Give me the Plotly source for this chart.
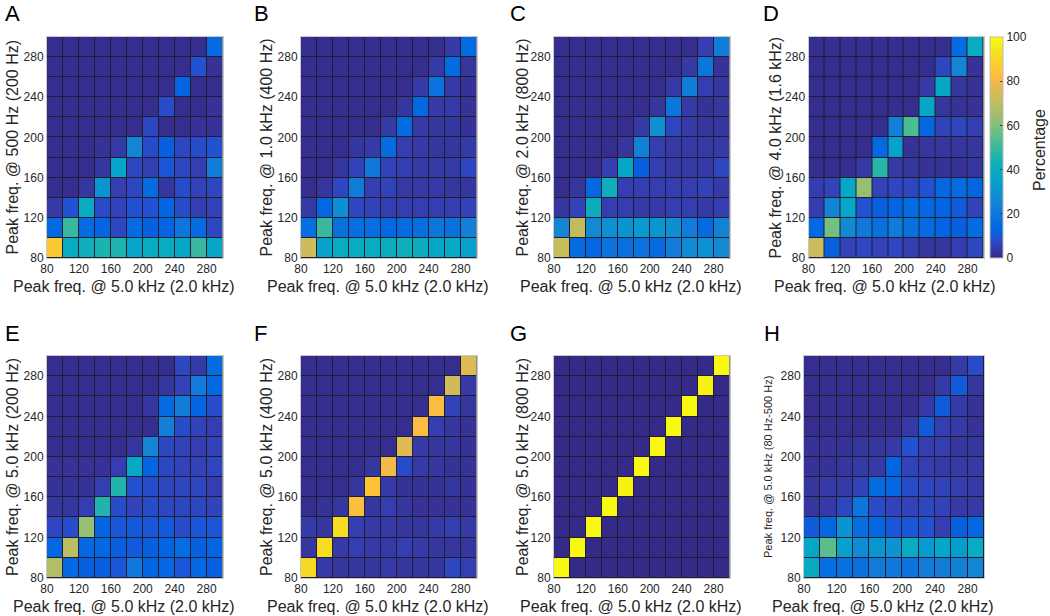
import plotly.graph_objects as go

W, H = 1050, 616

# Cell centres (Hz); rows are listed from top (290) to bottom (90)
x_freqs = [90, 110, 130, 150, 170, 190, 210, 230, 250, 270, 290]
y_freqs = [290, 270, 250, 230, 210, 190, 170, 150, 130, 110, 90]
tick_vals = [80, 120, 160, 200, 240, 280]
cbar_ticks = [0, 20, 40, 60, 80, 100]

panel_A = [
    [1, 1, 1, 1, 1, 1, 1, 1, 1, 1, 15],
    [1, 1, 1, 1, 1, 1, 1, 1, 1, 9, 2],
    [1, 1, 1, 1, 1, 1, 1, 1, 13, 1, 1],
    [1, 1, 1, 1, 1, 1, 1, 8, 1, 1, 2],
    [1, 1, 1, 1, 1, 1, 7, 1, 1, 2, 2],
    [1, 1, 1, 2, 4, 25, 8, 12, 7, 8, 9],
    [1, 1, 1, 3, 36, 7, 5, 10, 7, 5, 22],
    [1, 1, 3, 30, 5, 7, 15, 3, 8, 6, 7],
    [4, 9, 40, 8, 6, 9, 9, 13, 8, 5, 6],
    [14, 50, 15, 13, 7, 15, 12, 13, 19, 15, 7],
    [86, 40, 42, 45, 46, 36, 40, 40, 37, 50, 37],
]
panel_B = [
    [1, 1, 1, 1, 1, 1, 1, 1, 1, 4, 15],
    [1, 1, 1, 1, 1, 1, 1, 1, 4, 15, 3],
    [1, 1, 1, 1, 1, 1, 1, 4, 18, 4, 2],
    [1, 1, 1, 1, 1, 1, 3, 14, 4, 4, 2],
    [1, 1, 1, 1, 1, 4, 15, 4, 3, 3, 2],
    [1, 1, 1, 3, 4, 15, 5, 4, 3, 3, 4],
    [1, 1, 3, 6, 20, 6, 5, 4, 4, 4, 7],
    [1, 3, 7, 21, 5, 6, 4, 4, 4, 3, 3],
    [4, 14, 28, 7, 6, 5, 5, 5, 5, 5, 6],
    [16, 50, 17, 16, 16, 14, 15, 16, 19, 17, 23],
    [73, 35, 40, 40, 40, 41, 42, 41, 37, 39, 35],
]
panel_C = [
    [1, 1, 1, 1, 1, 1, 1, 1, 1, 5, 22],
    [1, 1, 1, 1, 1, 1, 1, 1, 4, 19, 2],
    [1, 1, 1, 1, 1, 1, 1, 4, 22, 5, 3],
    [1, 1, 1, 1, 1, 1, 3, 19, 4, 2, 3],
    [1, 1, 1, 1, 1, 4, 29, 7, 4, 3, 3],
    [1, 1, 1, 1, 3, 23, 5, 4, 4, 4, 4],
    [1, 1, 1, 5, 37, 12, 5, 4, 4, 4, 7],
    [1, 3, 14, 42, 5, 5, 5, 5, 5, 6, 4],
    [3, 6, 41, 5, 5, 4, 4, 5, 5, 4, 5],
    [25, 71, 26, 29, 30, 32, 31, 28, 22, 15, 24],
    [72, 15, 14, 18, 17, 18, 15, 22, 27, 29, 26],
]
panel_D = [
    [1, 1, 1, 1, 1, 1, 1, 1, 1, 15, 40],
    [1, 1, 1, 1, 1, 1, 1, 1, 7, 25, 2],
    [1, 1, 1, 1, 1, 1, 1, 4, 37, 3, 2],
    [1, 1, 1, 1, 1, 1, 1, 37, 3, 2, 2],
    [1, 1, 1, 1, 1, 23, 53, 14, 6, 7, 5],
    [1, 1, 1, 1, 14, 35, 2, 3, 3, 3, 3],
    [1, 1, 1, 4, 47, 4, 3, 2, 2, 2, 3],
    [5, 6, 37, 63, 6, 7, 7, 9, 14, 15, 13],
    [5, 25, 37, 9, 12, 13, 15, 14, 13, 11, 6],
    [14, 58, 26, 20, 17, 21, 17, 15, 13, 12, 15],
    [72, 12, 6, 7, 6, 7, 5, 3, 3, 5, 7],
]
panel_E = [
    [1, 1, 1, 1, 1, 1, 1, 1, 7, 4, 15],
    [1, 1, 1, 1, 1, 1, 1, 3, 6, 21, 14],
    [1, 1, 1, 1, 1, 1, 3, 15, 22, 13, 8],
    [1, 1, 1, 1, 1, 1, 1, 23, 8, 6, 5],
    [1, 1, 1, 1, 1, 3, 25, 7, 6, 5, 6],
    [2, 2, 2, 2, 5, 38, 13, 7, 6, 6, 7],
    [2, 2, 2, 5, 46, 9, 8, 7, 7, 7, 5],
    [3, 3, 5, 46, 8, 6, 8, 7, 7, 7, 6],
    [7, 8, 63, 13, 10, 11, 10, 11, 8, 10, 10],
    [14, 70, 14, 14, 12, 11, 12, 13, 16, 12, 13],
    [68, 14, 12, 12, 10, 20, 13, 14, 10, 14, 12],
]
panel_F = [
    [1, 1, 1, 1, 1, 1, 1, 1, 1, 1, 76],
    [1, 1, 1, 1, 1, 1, 1, 1, 1, 73, 4],
    [1, 1, 1, 1, 1, 1, 1, 1, 82, 6, 3],
    [1, 1, 1, 1, 1, 1, 1, 82, 5, 3, 2],
    [1, 1, 1, 1, 1, 1, 77, 4, 3, 3, 2],
    [1, 1, 1, 1, 3, 80, 8, 4, 3, 2, 2],
    [1, 1, 1, 3, 84, 4, 2, 2, 2, 3, 2],
    [1, 2, 3, 83, 3, 5, 3, 2, 2, 2, 2],
    [4, 3, 92, 5, 4, 4, 3, 3, 4, 5, 4],
    [3, 92, 4, 5, 4, 4, 5, 4, 3, 3, 3],
    [91, 4, 3, 3, 3, 4, 3, 3, 3, 7, 5],
]
panel_G = [
    [0, 0, 0, 0, 0, 0, 0, 0, 0, 0, 99],
    [0, 0, 0, 0, 0, 0, 0, 0, 0, 97, 0],
    [0, 0, 0, 0, 0, 0, 0, 0, 99, 0, 0],
    [0, 0, 0, 0, 0, 0, 0, 99, 0, 0, 0],
    [0, 0, 0, 0, 0, 0, 99, 0, 0, 0, 0],
    [0, 0, 0, 0, 0, 99, 0, 0, 0, 0, 0],
    [0, 0, 0, 0, 97, 0, 0, 0, 0, 0, 0],
    [0, 0, 0, 99, 0, 0, 0, 0, 0, 0, 0],
    [0, 0, 99, 0, 0, 0, 0, 0, 0, 0, 0],
    [0, 99, 0, 0, 0, 0, 0, 0, 0, 0, 0],
    [99, 0, 0, 0, 0, 0, 0, 0, 0, 0, 0],
]
panel_H = [
    [1, 1, 1, 1, 1, 1, 1, 1, 1, 4, 8],
    [1, 1, 1, 1, 1, 1, 1, 1, 4, 11, 3],
    [1, 1, 1, 1, 1, 1, 1, 4, 11, 4, 2],
    [1, 1, 1, 1, 1, 1, 4, 11, 5, 4, 2],
    [2, 2, 2, 3, 3, 4, 9, 5, 5, 3, 3],
    [2, 2, 3, 4, 4, 13, 6, 5, 4, 4, 4],
    [3, 4, 4, 6, 15, 14, 8, 7, 6, 5, 4],
    [3, 4, 7, 19, 8, 6, 6, 7, 6, 4, 4],
    [11, 14, 30, 16, 14, 10, 10, 9, 5, 12, 14],
    [37, 55, 35, 27, 31, 30, 40, 32, 37, 34, 40],
    [39, 16, 17, 17, 21, 20, 18, 22, 22, 23, 25],
]

panel_letters = ["A", "B", "C", "D", "E", "F", "G", "H"]
x_title = "Peak freq. @ 5.0 kHz (2.0 kHz)"
y_titles = [
    "Peak freq. @ 500 Hz (200 Hz)",
    "Peak freq. @ 1.0 kHz (400 Hz)",
    "Peak freq. @ 2.0 kHz (800 Hz)",
    "Peak freq. @ 4.0 kHz (1.6 kHz)",
    "Peak freq. @ 5.0 kHz (200 Hz)",
    "Peak freq. @ 5.0 kHz (400 Hz)",
    "Peak freq. @ 5.0 kHz (800 Hz)",
    "Peak freq. @ 5.0 kHz (80 Hz-500 Hz)",
]
colorbar_title = "Percentage"
panels = [panel_A, panel_B, panel_C, panel_D, panel_E, panel_F, panel_G, panel_H]

# MATLAB parula colormap (sampled)
parula = [
    (0.2081, 0.1663, 0.5292), (0.2123, 0.2138, 0.6270), (0.1959, 0.2645, 0.7279),
    (0.1253, 0.3242, 0.8303), (0.0117, 0.3875, 0.8820), (0.0165, 0.4266, 0.8786),
    (0.0498, 0.4586, 0.8641), (0.0723, 0.4887, 0.8467), (0.0793, 0.5200, 0.8312),
    (0.0641, 0.5570, 0.8240), (0.0343, 0.5966, 0.8199), (0.0239, 0.6287, 0.8038),
    (0.0228, 0.6535, 0.7768), (0.0384, 0.6743, 0.7436), (0.0843, 0.6928, 0.7062),
    (0.1453, 0.7098, 0.6646), (0.2178, 0.7250, 0.6193), (0.3022, 0.7376, 0.5712),
    (0.3953, 0.7459, 0.5244), (0.4871, 0.7491, 0.4840), (0.5709, 0.7485, 0.4494),
    (0.6473, 0.7456, 0.4188), (0.7184, 0.7411, 0.3905), (0.7858, 0.7356, 0.3633),
    (0.8507, 0.7299, 0.3360), (0.9139, 0.7258, 0.3063), (0.9739, 0.7314, 0.2666),
    (0.9990, 0.7653, 0.2164), (0.9880, 0.8066, 0.1794), (0.9697, 0.8481, 0.1475),
    (0.9589, 0.8949, 0.1132), (0.9661, 0.9514, 0.0755), (0.9763, 0.9831, 0.0538),
]
n = len(parula)
colorscale = []
for i, (r, g, b) in enumerate(parula):
    pos = i / (n - 1)
    colorscale.append([pos, f"rgb({int(round(r*255))},{int(round(g*255))},{int(round(b*255))})"])

# pixel layout of the plot areas
col_x = [(47, 222.5), (301, 476.5), (554, 729.5), (808.5, 983.5),
         (47, 222.5), (301, 476.5), (554, 729.5), (804, 984)]
row_y = [(37, 258), (37, 258), (37, 258), (37, 258),
         (356, 578), (356, 578), (356, 578), (356, 578)]
letter_x = [3, 252, 508, 761, 3, 252, 508, 762]
letter_y = [14, 14, 14, 14, 333, 333, 333, 333]
ytitle_x = [12, 266, 522, 775, 12, 266, 522, 768]

TXT = "#262626"
FONT = "Liberation Sans, Arial, Helvetica, sans-serif"

fig = go.Figure()
annotations = []
layout_axes = {}
for i, z in enumerate(panels):
    k = "" if i == 0 else str(i + 1)
    fig.add_trace(go.Heatmap(
        z=z, x=x_freqs, y=y_freqs, coloraxis="coloraxis",
        xgap=1, ygap=1, xaxis="x" + k, yaxis="y" + k,
        hovertemplate="x=%{x}<br>y=%{y}<br>%{z}%<extra></extra>",
    ))
    x0, x1 = col_x[i]
    y0, y1 = row_y[i]
    common = dict(
        tickvals=tick_vals, ticks="", showgrid=False, zeroline=False,
        showline=True, mirror=True, linecolor="#c8c8c8", linewidth=1,
        tickfont=dict(size=12, color=TXT, family=FONT),
    )
    layout_axes["xaxis" + k] = dict(domain=[x0 / W, x1 / W], anchor="y" + k,
                                    range=[80, 300], **common)
    layout_axes["yaxis" + k] = dict(domain=[1 - y1 / H, 1 - y0 / H], anchor="x" + k,
                                    range=[80, 300], **common)
    annotations.append(dict(
        text=x_title, x=((x0 + x1) / 2 - 11) / W, y=1 - (y1 + 28) / H,
        xref="paper", yref="paper", showarrow=False, xanchor="center", yanchor="middle",
        font=dict(size=16, color=TXT, family=FONT)))
    annotations.append(dict(
        text=y_titles[i], x=ytitle_x[i] / W, y=1 - ((y0 + y1) / 2) / H,
        xref="paper", yref="paper", showarrow=False, xanchor="center", yanchor="middle",
        textangle=-90, font=dict(size=11 if i == 7 else 16, color=TXT, family=FONT)))
    annotations.append(dict(
        text=panel_letters[i], x=letter_x[i] / W, y=1 - letter_y[i] / H,
        xref="paper", yref="paper", showarrow=False, xanchor="left", yanchor="middle",
        font=dict(size=22, color="#000000", family=FONT)))

annotations.append(dict(
    text=colorbar_title, x=1040 / W, y=1 - 150 / H,
    xref="paper", yref="paper", showarrow=False, xanchor="center", yanchor="middle",
    textangle=-90, font=dict(size=16, color=TXT, family=FONT)))

fig.update_layout(
    width=W, height=H, margin=dict(l=0, r=0, t=0, b=0, autoexpand=False),
    paper_bgcolor="white", plot_bgcolor="#1e1e30",
    font=dict(family=FONT, color=TXT),
    coloraxis=dict(
        colorscale=colorscale, cmin=0, cmax=100,
        colorbar=dict(
            x=990 / W, xanchor="left", xpad=0, ypad=0,
            y=1 - 147.5 / H, yanchor="middle",
            len=221, lenmode="pixels", thickness=13,
            outlinecolor="#bbbbbb", outlinewidth=1,
            tickvals=cbar_ticks, ticks="inside", ticklen=3, tickcolor="#444444",
            tickfont=dict(size=12, color=TXT, family=FONT),
        ),
    ),
    annotations=annotations,
    showlegend=False,
    **layout_axes,
)

fig.write_html("out.html", config={"displayModeBar": False},
               post_script="document.body.style.margin='0';")
